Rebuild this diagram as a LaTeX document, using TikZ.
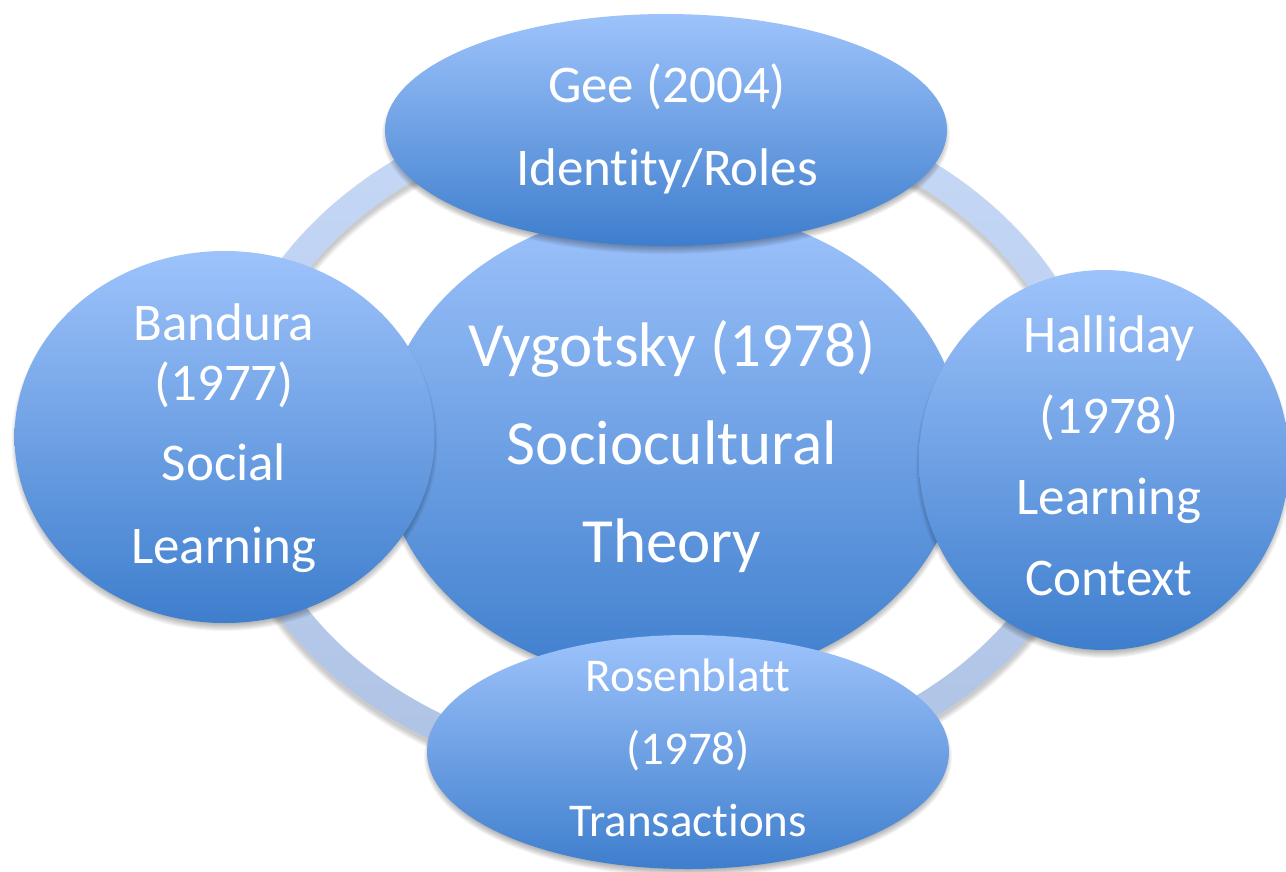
\documentclass[tikz,border=0pt]{standalone}
\usepackage{fontspec}
\setmainfont[Ligatures={NoCommon}]{Carlito}
\usetikzlibrary{calc,shapes.geometric}
\definecolor{blobtop}{RGB}{158,195,251}
\definecolor{blobbot}{RGB}{62,126,205}
\definecolor{ringtop}{RGB}{198,217,247}
\definecolor{ringbot}{RGB}{174,194,228}
\newcommand{\blobshadow}[3]{%
  \foreach \k in {0,...,7}{%
    \pgfmathsetmacro\rxx{#2+3-\k}%
    \pgfmathsetmacro\ryy{#3+3-\k}%
    \fill[black,opacity=0.04] (#1) ++(0,5) ellipse [x radius=\rxx, y radius=\ryy];
  }%
}
\tikzset{
  blob/.style={ellipse, inner sep=0pt, outer sep=0pt, top color=blobtop, bottom color=blobbot, draw=none},
  blobtext/.style={text=white, align=center, inner sep=0pt},
}
\begin{document}
\begin{tikzpicture}[x=1pt,y=-1pt]
\useasboundingbox (0,0) rectangle (1286,871);
\fill[white] (0,0) rectangle (1286,871);
% ring
\coordinate (rc) at (662,440);
\foreach \w in {36,34,32,30,28,26}{
  \draw[black,opacity=0.035,line width=\w pt] (rc) ++(0,5) ellipse [x radius=430, y radius=337];
}
\path[top color=ringtop, bottom color=ringbot, even odd rule]
  (rc) ellipse [x radius=444, y radius=351]
  (rc) ellipse [x radius=416, y radius=323];
% centre
\blobshadow{672,445}{290}{238}
\node[blob, minimum width=580pt, minimum height=476pt] (vyg) at (672,445) {};
\node[blobtext, font=\fontsize{63}{98}\selectfont] (vygt) at (672,447) {Vygotsky (1978)\\Sociocultural\\Theory};
% Gee
\blobshadow{666,130}{281}{116}
\node[blob, minimum width=562pt, minimum height=232pt] (gee) at (666,130) {};
\node[blobtext, font=\fontsize{53}{83}\selectfont] (geet) at (667,129) {Gee (2004)\\Identity/Roles};
% Bandura
\blobshadow{224.5,437}{210}{186}
\node[blob, minimum width=420pt, minimum height=372pt] (ban) at (224.5,437) {};
\node[blobtext, font=\fontsize{53}{60}\selectfont] (bant) at (224,438) {Bandura\\(1977)\\[20pt]Social\\[23pt]Learning};
% Halliday
\blobshadow{1104,460}{185}{190}
\node[blob, minimum width=370pt, minimum height=380pt] (hal) at (1104,460) {};
\node[blobtext, font=\fontsize{53}{81}\selectfont] (halt) at (1109,456) {Halliday\\(1978)\\Learning\\Context};
% Rosenblatt
\blobshadow{688,752}{261}{117}
\node[blob, minimum width=522pt, minimum height=234pt] (ros) at (688,752) {};
\node[blobtext, font=\fontsize{47}{72.5}\selectfont] (rost) at (688,748) {Rosenblatt\\(1978)\\Transactions};
\end{tikzpicture}
\end{document}
